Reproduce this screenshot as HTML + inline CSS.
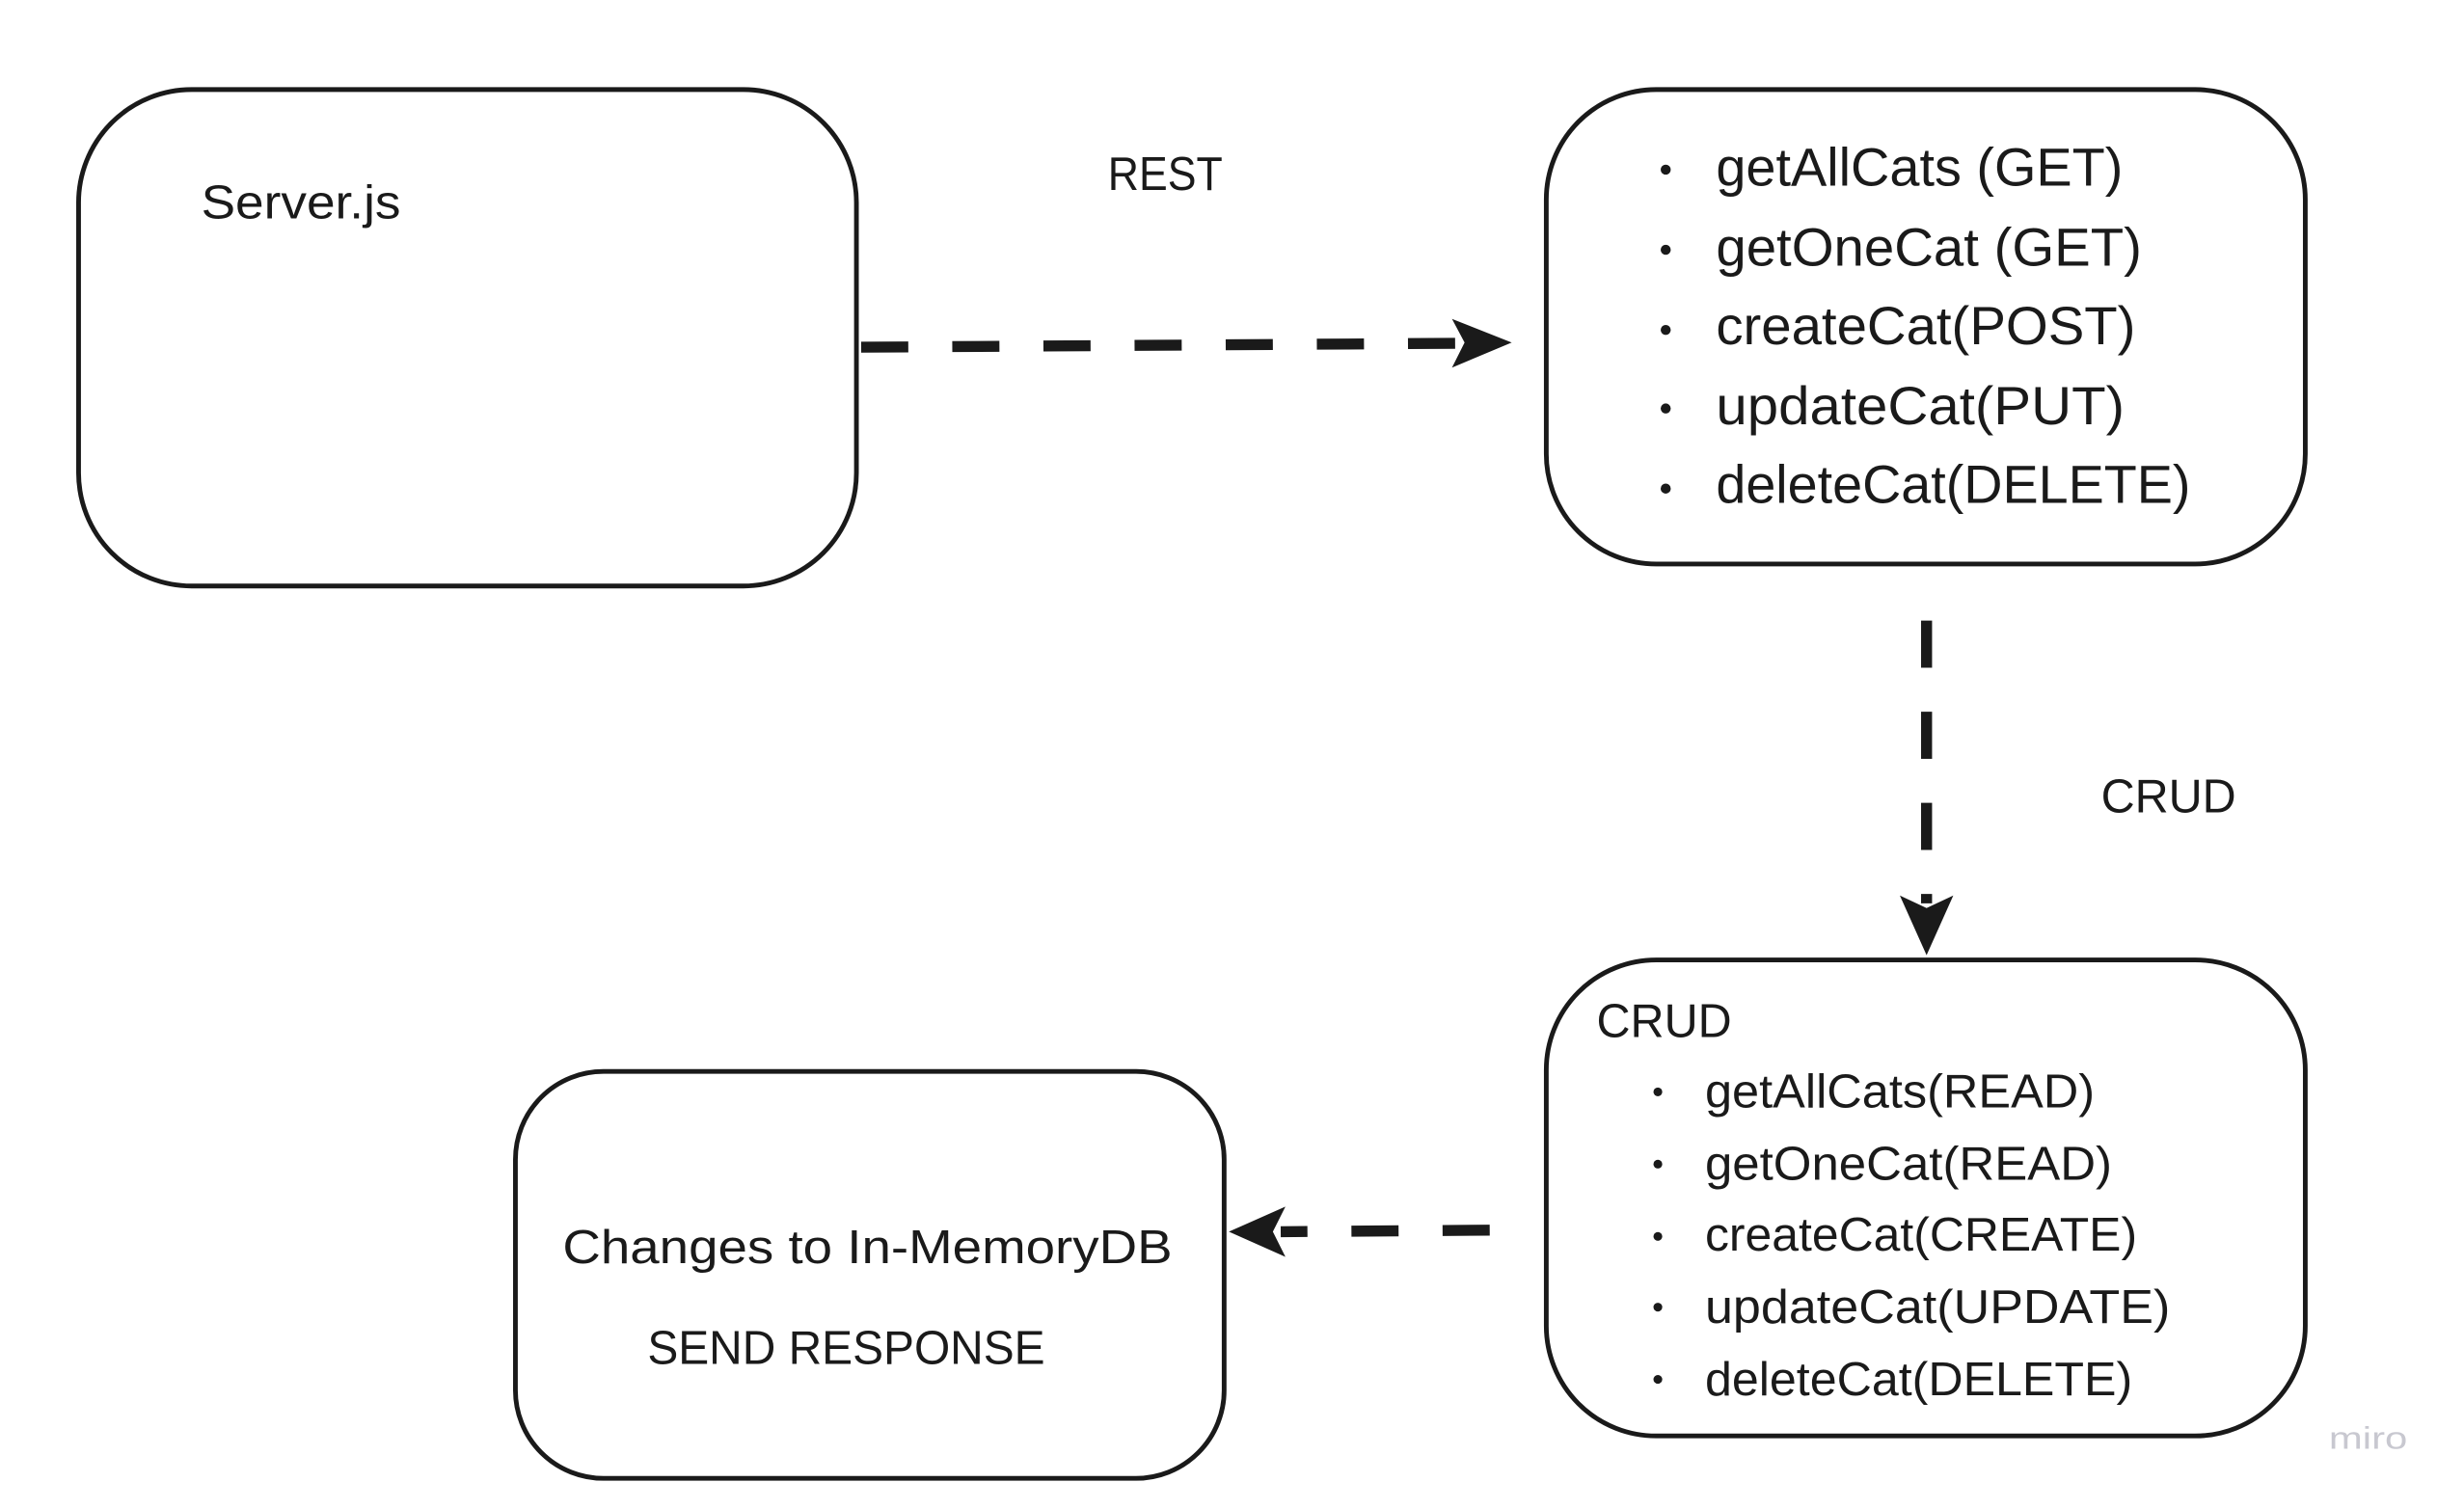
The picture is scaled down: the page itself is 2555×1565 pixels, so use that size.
<!DOCTYPE html>
<html><head><style>html,body{margin:0;padding:0;background:#fff}svg{display:block}</style></head><body>
<svg width="2555" height="1565" viewBox="0 0 1568 960.5" preserveAspectRatio="none" xmlns="http://www.w3.org/2000/svg" font-family="Liberation Sans, sans-serif" fill="#1a1a1a">
<rect x="0" y="0" width="1568" height="961" fill="#fff"/>
<g fill="none" stroke="#1a1a1a" stroke-width="3">
<rect x="50" y="57" width="495" height="316" rx="72"/>
<rect x="984" y="57" width="483" height="302" rx="70"/>
<rect x="984" y="611" width="483" height="303" rx="70"/>
<rect x="328" y="682" width="451" height="259" rx="56"/>
</g>
<g stroke="#1a1a1a" stroke-width="7" fill="none">
<line x1="548" y1="221" x2="928" y2="218.5" stroke-dasharray="30,28"/>
<line x1="1226" y1="395" x2="1226" y2="575" stroke-dasharray="30,28"/>
<line x1="948" y1="783" x2="815" y2="784" stroke-dasharray="30,28"/>
</g>
<polygon points="924,203 962,218 924,234 932,218" fill="#1a1a1a"/>
<polygon points="1209,570 1226,608 1243,570 1226,578" fill="#1a1a1a"/>
<polygon points="818,768 782,784 818,800 810,784" fill="#1a1a1a"/>
<g font-size="30">
<text x="128" y="139" textLength="127" lengthAdjust="spacingAndGlyphs">Server.js</text>
<text x="705" y="121" textLength="73" lengthAdjust="spacingAndGlyphs">REST</text>
<text x="1337" y="517" textLength="86" lengthAdjust="spacingAndGlyphs">CRUD</text>
<text x="1016" y="660" textLength="86" lengthAdjust="spacingAndGlyphs">CRUD</text>
<text x="358" y="804" textLength="388" lengthAdjust="spacingAndGlyphs">Changes to In-MemoryDB</text>
<text x="412" y="868" textLength="253" lengthAdjust="spacingAndGlyphs">SEND RESPONSE</text>
</g>
<g font-size="34">
<text x="1092" y="118" textLength="259" lengthAdjust="spacingAndGlyphs">getAllCats (GET)</text>
<text x="1092" y="169" textLength="271" lengthAdjust="spacingAndGlyphs">getOneCat (GET)</text>
<text x="1092" y="219" textLength="267" lengthAdjust="spacingAndGlyphs">createCat(POST)</text>
<text x="1092" y="270" textLength="260" lengthAdjust="spacingAndGlyphs">updateCat(PUT)</text>
<text x="1092" y="320" textLength="302" lengthAdjust="spacingAndGlyphs">deleteCat(DELETE)</text>
</g>
<g>
<circle cx="1060" cy="108" r="3.2"/><circle cx="1060" cy="159" r="3.2"/><circle cx="1060" cy="210" r="3.2"/><circle cx="1060" cy="260" r="3.2"/><circle cx="1060" cy="311" r="3.2"/>
<circle cx="1055" cy="695" r="2.8"/><circle cx="1055" cy="741" r="2.8"/><circle cx="1055" cy="787" r="2.8"/><circle cx="1055" cy="832" r="2.8"/><circle cx="1055" cy="878" r="2.8"/>
</g>
<g font-size="30">
<text x="1085" y="705" textLength="248" lengthAdjust="spacingAndGlyphs">getAllCats(READ)</text>
<text x="1085" y="751" textLength="259" lengthAdjust="spacingAndGlyphs">getOneCat(READ)</text>
<text x="1085" y="796" textLength="275" lengthAdjust="spacingAndGlyphs">createCat(CREATE)</text>
<text x="1085" y="842" textLength="296" lengthAdjust="spacingAndGlyphs">updateCat(UPDATE)</text>
<text x="1085" y="888" textLength="272" lengthAdjust="spacingAndGlyphs">deleteCat(DELETE)</text>
</g>
<text x="1482" y="922" font-size="20" fill="#c8c8d0" textLength="50" lengthAdjust="spacingAndGlyphs">miro</text>
</svg>
</body></html>
